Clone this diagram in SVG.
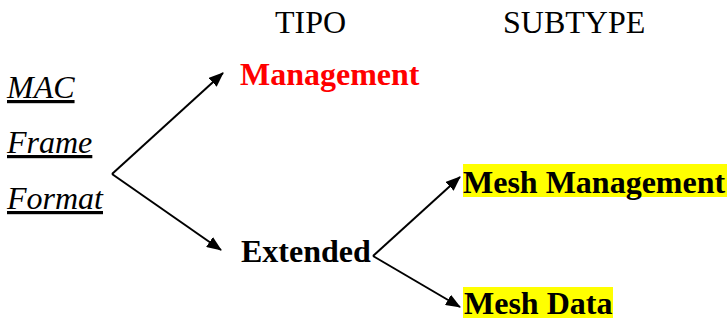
<svg xmlns="http://www.w3.org/2000/svg" width="727" height="320" viewBox="0 0 727 320">
  <style>
    text { font-family: "Liberation Serif", "Times New Roman", serif; font-size: 32px; fill: #000; }
    .head { font-weight: normal; }
    .side { font-style: italic; text-decoration: underline; }
    .node { font-weight: bold; }
    .red { fill: #ff0000; }
    .hl { fill: #ffff00; }
    .conn { fill: none; stroke: #000; stroke-width: 2; marker-end: url(#arrow); }
  </style>
  <defs>
    <marker id="arrow" viewBox="0 0 15 12" refX="14" refY="6" markerWidth="15" markerHeight="12" markerUnits="userSpaceOnUse" orient="auto">
      <path d="M0,0 L15,6 L0,12 z" fill="#000"/>
    </marker>
  </defs>
  <rect width="727" height="320" fill="#fff"/>

  <!-- column headings -->
  <g id="headings">
    <text class="head" x="275" y="33">TIPO</text>
    <text class="head" x="503" y="33">SUBTYPE</text>
  </g>

  <!-- left label -->
  <g id="mac-frame-format">
    <text class="side" x="7" y="98">MAC</text>
    <text class="side" x="7" y="153">Frame</text>
    <text class="side" x="7" y="209">Format</text>
  </g>

  <g id="management">
    <text class="node red" x="240" y="85">Management</text>
  </g>

  <g id="extended">
    <text class="node" x="241" y="262">Extended</text>
  </g>

  <g id="mesh-management">
    <rect class="hl" x="463" y="164" width="264" height="33"/>
    <text class="node" x="463" y="193">Mesh Management</text>
  </g>

  <g id="mesh-data">
    <rect class="hl" x="463" y="287" width="150" height="31"/>
    <text class="node" x="464" y="314">Mesh Data</text>
  </g>

  <!-- connectors -->
  <g id="connectors">
    <path class="conn" d="M112,174 L223,73"/>
    <path class="conn" d="M112,174 L221,250"/>
    <path class="conn" d="M373,256 L460,177"/>
    <path class="conn" d="M373,256 L460,307"/>
  </g>
</svg>
